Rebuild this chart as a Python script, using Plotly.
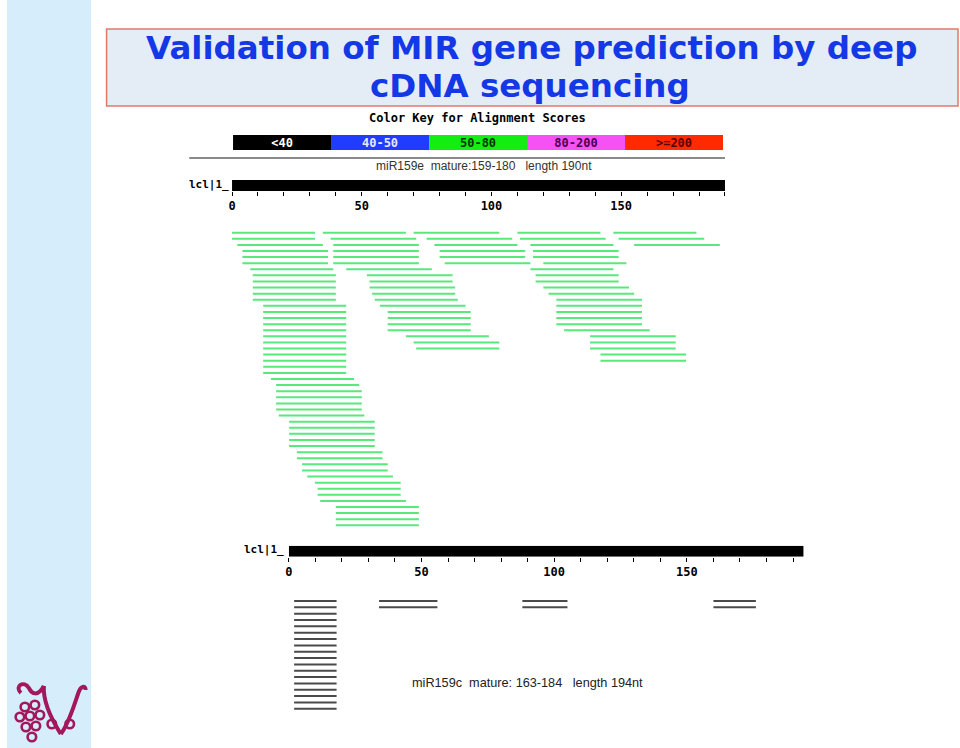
import plotly.graph_objects as go

W, H = 960, 748


def px(x):
    return x / W


def py(y):
    return 1 - y / H


# ---------------- data ----------------
title_line1 = "Validation of MIR gene prediction by deep"
title_line2 = "cDNA sequencing"
key_title = "Color Key for Alignment Scores"
key_labels = ["<40", "40-50", "50-80", "80-200", ">=200"]
key_colors = ["#000000", "#1f3cff", "#12ee12", "#f552f5", "#ff2a00"]
key_text_colors = ["#ffffff", "#e8e8ff", "#003300", "#4a0050", "#5a0000"]

seq_len_top = 190
seq_len_bottom = 194
seq_name = "lcl|1_"
top_label = "miR159e\u00a0\u00a0mature:159-180\u00a0\u00a0\u00a0length 190nt"
bottom_label = "miR159c\u00a0\u00a0mature: 163-184\u00a0\u00a0\u00a0length 194nt"
tick_vals = [0, 50, 100, 150]

# top panel reads (miR159e): row, start, end (nt)
top_read_rows = (
    [1] * 5 + [2] * 5 + [3] * 5 + [4] * 4 + [5] * 4 + [6] * 4
    + [7] * 3 + [8] * 3 + [9] * 3 + [10] * 3 + [11] * 3 + [12] * 3
    + [13] * 3 + [14] * 3 + [15] * 3 + [16] * 3 + [17] * 3 + [18] * 3
    + [19] * 3 + [20] * 3 + [21] * 2 + [22] * 2
    + list(range(23, 50))
)
top_read_starts = (
    [0, 35, 70, 110, 147] + [0, 38, 75, 111, 149] + [2, 39, 78, 115, 155]
    + [4, 39, 80, 116] + [4, 39, 80, 116] + [4, 39, 82, 120]
    + [7, 44, 115] + [8, 52, 117] + [8, 53, 117] + [8, 53, 120]
    + [8, 54, 122] + [8, 55, 125] + [12, 57, 125] + [12, 60, 125]
    + [12, 60, 125] + [12, 60, 125] + [12, 60, 128] + [12, 67, 138]
    + [12, 70, 138] + [12, 71, 138] + [12, 142] + [12, 142]
    + [12, 12, 15, 17, 17, 17, 17, 17, 18, 22, 22, 22, 22, 22,
       25, 25, 27, 27, 29, 32, 33, 33, 34, 40, 40, 40, 40]
)
top_read_ends = (
    [32, 67, 103, 142, 179] + [32, 71, 108, 144, 182] + [35, 72, 110, 147, 188]
    + [37, 72, 113, 149] + [37, 72, 113, 149] + [37, 72, 115, 152]
    + [39, 77, 147] + [40, 85, 149] + [40, 85, 149] + [40, 86, 153]
    + [40, 86, 155] + [40, 87, 158] + [44, 90, 158] + [44, 92, 158]
    + [44, 92, 158] + [44, 92, 158] + [44, 92, 161] + [44, 99, 171]
    + [44, 103, 171] + [44, 103, 171] + [44, 175] + [44, 175]
    + [44, 44, 47, 49, 50, 50, 50, 50, 51, 55, 55, 55, 55, 55,
       58, 58, 60, 60, 62, 65, 65, 65, 67, 72, 72, 72, 72]
)

# bottom panel reads (miR159c)
bottom_read_rows = list(range(1, 19)) + [1, 2] + [1, 2] + [1, 2]
bottom_read_starts = [2] * 18 + [34, 34] + [88, 88] + [160, 160]
bottom_read_ends = [18] * 18 + [56, 56] + [105, 105] + [176, 176]


def segs(rows, starts, ends):
    xs, ys = [], []
    for r, s, e in zip(rows, starts, ends):
        xs += [s, e, None]
        ys += [r, r, None]
    return xs, ys


fig = go.Figure()

# color key bar
fig.add_trace(go.Bar(
    orientation="h", x=[1] * len(key_labels), base=list(range(len(key_labels))),
    y=[0] * len(key_labels), width=1, marker=dict(color=key_colors, line=dict(width=0)),
    text=key_labels, textposition="inside", insidetextanchor="middle",
    constraintext="none",
    textfont=dict(family="DejaVu Sans Mono", size=12, color=key_text_colors, weight="bold"),
    xaxis="x3", yaxis="y5", hoverinfo="skip",
))

# rulers
fig.add_trace(go.Scatter(
    x=[0, seq_len_top, seq_len_top, 0, 0], y=[0, 0, 1, 1, 0], fill="toself",
    fillcolor="black", line=dict(width=0), mode="lines", xaxis="x", yaxis="y2",
    hoverinfo="skip",
))
fig.add_trace(go.Scatter(
    x=[0, seq_len_bottom, seq_len_bottom, 0, 0], y=[0, 0, 1, 1, 0], fill="toself",
    fillcolor="black", line=dict(width=0), mode="lines", xaxis="x2", yaxis="y3",
    hoverinfo="skip",
))

# reads
tx, ty = segs(top_read_rows, top_read_starts, top_read_ends)
fig.add_trace(go.Scatter(x=tx, y=ty, mode="lines", line=dict(color="#58e87c", width=2),
                         xaxis="x", yaxis="y", hoverinfo="skip"))
bx, by = segs(bottom_read_rows, bottom_read_starts, bottom_read_ends)
fig.add_trace(go.Scatter(x=bx, y=by, mode="lines", line=dict(color="#4a4a4a", width=2),
                         xaxis="x2", yaxis="y4", hoverinfo="skip"))

# geometry of the row axes
top_row0, top_dy = 232.7, 6.096
bot_row0, bot_dy = 601.0, 6.34
top_dom = (228, 530)
bot_dom = (596, 714)
top_range = [1 + (top_dom[1] - top_row0) / top_dy, 1 + (top_dom[0] - top_row0) / top_dy]
bot_range = [1 + (bot_dom[1] - bot_row0) / bot_dy, 1 + (bot_dom[0] - bot_row0) / bot_dy]

tickfont = dict(family="DejaVu Sans Mono", size=12, color="black", weight="bold")
minor = dict(dtick=10, tick0=0, ticks="outside", ticklen=4, tickcolor="black", tickwidth=1)

fig.update_layout(
    width=W, height=H, margin=dict(l=0, r=0, t=0, b=0),
    paper_bgcolor="white", plot_bgcolor="rgba(0,0,0,0)", showlegend=False,
    barmode="overlay", hovermode=False,
    xaxis=dict(domain=[px(229), px(724)], range=[0, seq_len_top], anchor="y2",
               tickvals=tick_vals, ticks="outside", ticklen=4, tickcolor="black",
               minor=minor, tickfont=tickfont, showgrid=False, zeroline=False,
               showline=False, fixedrange=True),
    yaxis=dict(domain=[py(top_dom[1]), py(top_dom[0])], range=top_range, anchor="x",
               visible=False),
    yaxis2=dict(domain=[py(191), py(180)], range=[0, 1], anchor="x", visible=False),
    xaxis2=dict(domain=[px(286), px(803)], range=[0, seq_len_bottom], anchor="y3",
                tickvals=tick_vals, ticks="outside", ticklen=4, tickcolor="black",
                minor=minor, tickfont=tickfont, showgrid=False, zeroline=False,
                showline=False),
    yaxis3=dict(domain=[py(556.7), py(545.7)], range=[0, 1], anchor="x2", visible=False),
    yaxis4=dict(domain=[py(bot_dom[1]), py(bot_dom[0])], range=bot_range, anchor="x2",
                visible=False),
    xaxis3=dict(domain=[px(230), px(722)], range=[0, len(key_labels)], anchor="y5",
                visible=False),
    yaxis5=dict(domain=[py(150), py(135)], range=[-0.5, 0.5], anchor="x3", visible=False),
)

shapes = [
    dict(type="rect", xref="paper", yref="paper", x0=px(3), x1=px(87.5), y0=0, y1=1,
         fillcolor="#d6eefb", line=dict(width=0), layer="below"),
    dict(type="rect", xref="paper", yref="paper", x0=px(103), x1=px(958), y0=py(106),
         y1=py(29), fillcolor="#e4ecf6", line=dict(color="#e07a68", width=1.5), layer="below"),
    dict(type="line", xref="paper", yref="paper", x0=px(186), x1=px(724), y0=py(158),
         y1=py(158), line=dict(color="#8a8a8a", width=2)),
]


def pth(cmds):
    out = []
    for c in cmds:
        if isinstance(c, str):
            out.append(c)
        else:
            out.append(f"{px(c[0]):.5f},{py(c[1]):.5f}")
    return " ".join(out)


logo_col = "#a3175c"
logo_paths = [
    ["M", (17, 693), "C", (10, 686), (20, 680), (25, 688), "C", (28, 694), (34, 697), (40, 686)],
    ["M", (40, 686), "C", (39, 702), (48, 720), (57, 734)],
    ["M", (57, 734), "C", (65, 724), (70, 706), (75, 692), "C", (77, 686), (82, 685), (82, 690)],
]
for p in logo_paths:
    shapes.append(dict(type="path", xref="paper", yref="paper", path=pth(p),
                       line=dict(color=logo_col, width=4)))
grapes = [(21, 707), (31, 705), (16, 717), (26, 716), (36, 715), (22, 727), (32, 726),
          (28, 737), (48, 724), (66, 724)]
for gx, gy in grapes:
    r = 4.3
    shapes.append(dict(type="circle", xref="paper", yref="paper", x0=px(gx - r), x1=px(gx + r),
                       y0=py(gy + r), y1=py(gy - r), line=dict(color=logo_col, width=2.6)))
fig.update_layout(shapes=shapes)

ann = [
    dict(text=title_line1, x=px(530), y=py(48.5), font=dict(family="DejaVu Sans", size=32.5,
         color="#1438e6", weight="bold")),
    dict(text=title_line2, x=px(528), y=py(86.5), font=dict(family="DejaVu Sans", size=32.5,
         color="#1438e6", weight="bold")),
    dict(text=key_title, x=px(475), y=py(118), font=dict(family="DejaVu Sans Mono", size=12,
         color="black", weight="bold")),
    dict(text=top_label, x=px(482), y=py(166), font=dict(family="Liberation Sans", size=12,
         color="#333333")),
    dict(text=seq_name, x=px(184), y=py(184), xanchor="left",
         font=dict(family="DejaVu Sans Mono", size=11, color="black", weight="bold")),
    dict(text=seq_name, x=px(239), y=py(549), xanchor="left",
         font=dict(family="DejaVu Sans Mono", size=11, color="black", weight="bold")),
    dict(text=bottom_label, x=px(408), y=py(683), xanchor="left",
         font=dict(family="Liberation Sans", size=12.7, color="#222222")),
]
for a in ann:
    a.setdefault("xanchor", "center")
    a.update(xref="paper", yref="paper", yanchor="middle", showarrow=False)
fig.update_layout(annotations=ann)

fig.write_html("out.html")
